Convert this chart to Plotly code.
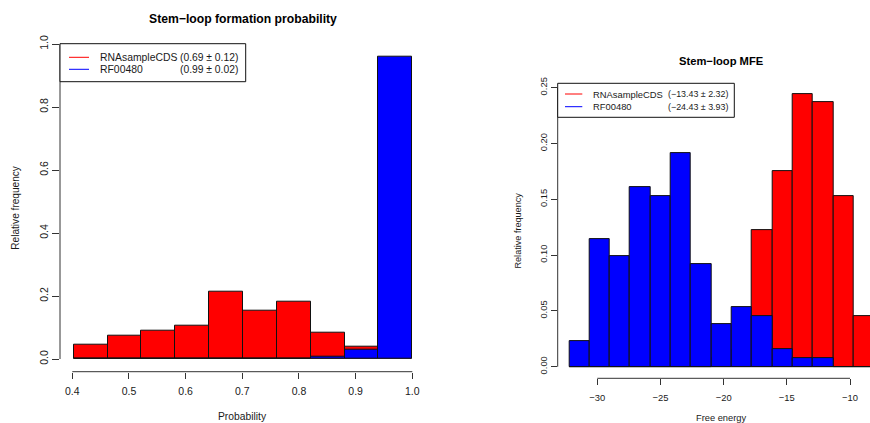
import plotly.graph_objects as go

# ---------------- data ----------------
prob_edges = [0.4025, 0.4623, 0.5220, 0.5818, 0.6415, 0.7013, 0.7610, 0.8208, 0.8805, 0.9403, 1.0]
prob_rnasample = [0.044, 0.075, 0.090, 0.107, 0.213, 0.152, 0.182, 0.083, 0.039, 0.015]
prob_rf00480 = [0.0, 0.0, 0.0, 0.0, 0.0, 0.0, 0.0, 0.008, 0.031, 0.960]

mfe_edges = [-32.22, -30.61, -29.00, -27.40, -25.79, -24.18, -22.57, -20.97,
             -19.36, -17.75, -16.14, -14.54, -12.93, -11.32, -9.72, -8.11]
mfe_rnasample = [0.0, 0.0, 0.0, 0.0, 0.0, 0.0, 0.0, 0.0076, 0.015, 0.122,
                 0.1756, 0.2443, 0.237, 0.153, 0.0457]
mfe_rf00480 = [0.023, 0.114, 0.099, 0.161, 0.153, 0.191, 0.092, 0.038, 0.0535,
               0.0457, 0.0156, 0.0075, 0.0075, 0.0, 0.0]

prob_xticks = [0.4, 0.5, 0.6, 0.7, 0.8, 0.9, 1.0]
prob_xlabels = ["0.4", "0.5", "0.6", "0.7", "0.8", "0.9", "1.0"]
prob_yticks = [0.0, 0.2, 0.4, 0.6, 0.8, 1.0]
prob_ylabels = ["0.0", "0.2", "0.4", "0.6", "0.8", "1.0"]
mfe_xticks = [-30, -25, -20, -15, -10]
mfe_yticks = [0.00, 0.05, 0.10, 0.15, 0.20, 0.25]
mfe_ylabels = ["0.00", "0.05", "0.10", "0.15", "0.20", "0.25"]

left_title = "Stem−loop formation probability"
right_title = "Stem−loop MFE"
left_legend = [("RNAsampleCDS", "(0.69 ± 0.12)"), ("RF00480", "(0.99 ± 0.02)")]
right_legend = [("RNAsampleCDS", "(−13.43 ± 2.32)"), ("RF00480", "(−24.43 ± 3.93)")]

RED = "#ff0000"
BLUE = "#0000ff"
FONT = "Liberation Sans, Arial, Helvetica, sans-serif"
TXT = "#1a1a1a"
W, H = 870, 423


def centers(edges):
    return [(a + b) / 2 for a, b in zip(edges[:-1], edges[1:])]


def widths(edges):
    return [b - a for a, b in zip(edges[:-1], edges[1:])]


def px(x):
    return x / W


def py(y):
    return 1 - y / H


fig = go.Figure()
for vals, col, xa, ya, edges in [
    (prob_rnasample, RED, "x", "y", prob_edges),
    (prob_rf00480, BLUE, "x", "y", prob_edges),
    (mfe_rnasample, RED, "x2", "y2", mfe_edges),
    (mfe_rf00480, BLUE, "x2", "y2", mfe_edges),
]:
    fig.add_trace(go.Bar(
        x=centers(edges), y=vals, width=widths(edges), base=0,
        marker=dict(color=col, line=dict(color="#111111", width=1)),
        xaxis=xa, yaxis=ya, showlegend=False, hoverinfo="skip",
    ))

axis_common = dict(showgrid=False, zeroline=False, showline=False, ticks="outside",
                   tickcolor="#333333", tickwidth=1, color=TXT, automargin=False)

fig.update_layout(
    width=W, height=H, margin=dict(l=0, r=0, t=0, b=0, pad=0, autoexpand=False),
    paper_bgcolor="white", plot_bgcolor="white", barmode="overlay", bargap=0,
    font=dict(family=FONT, color=TXT),
    xaxis=dict(domain=[px(60), px(425.8)], range=[0.37829, 1.02382],
               tickvals=prob_xticks, ticktext=prob_xlabels,
               ticklen=6, tickfont=dict(size=10.5), ticklabelstandoff=4, anchor="y", **axis_common),
    yaxis=dict(domain=[py(371.7), py(43.7)], range=[-0.0403, 1.001],
               tickvals=prob_yticks, ticktext=prob_ylabels,
               ticklen=7, tickangle=-90, tickfont=dict(size=10.5), anchor="x", **axis_common),
    xaxis2=dict(domain=[px(557.7), 1.0], range=[-33.134, -8.417],
                tickvals=mfe_xticks, ticklen=6, tickfont=dict(size=9.4),
                ticklabelstandoff=4, anchor="y2", **axis_common),
    yaxis2=dict(domain=[py(378.3), py(83.1)], range=[-0.0104, 0.2541],
                tickvals=mfe_yticks, ticktext=mfe_ylabels,
                ticklen=6, tickangle=-90, tickfont=dict(size=9.4), anchor="x2", **axis_common),
)

shapes = []
line = dict(color="#333333", width=1)
# axis lines spanning only the tick range (R style)
shapes.append(dict(type="line", xref="x", yref="y domain", x0=prob_xticks[0], x1=prob_xticks[-1], y0=0, y1=0, line=line))
shapes.append(dict(type="line", xref="x domain", yref="y", x0=0, x1=0, y0=prob_yticks[0], y1=prob_yticks[-1], line=line))
shapes.append(dict(type="line", xref="x2", yref="y2 domain", x0=mfe_xticks[0], x1=mfe_xticks[-1], y0=0, y1=0, line=line))
shapes.append(dict(type="line", xref="x2 domain", yref="y2", x0=0, x1=0, y0=mfe_yticks[0], y1=mfe_yticks[-1], line=line))

annotations = []


def text(x, y, s, size, anchor="center", bold=False, angle=0):
    annotations.append(dict(
        x=px(x), y=py(y), xref="paper", yref="paper", text=("<b>%s</b>" % s) if bold else s,
        showarrow=False, xanchor=anchor, yanchor="middle", textangle=angle,
        font=dict(size=size, family=FONT, color="#000000" if bold else TXT),
    ))


def legend(box, line_ys, lx0, lx1, tx, tr, entries, size, stat_size):
    x0, y0, x1, y1 = box
    shapes.append(dict(type="rect", xref="paper", yref="paper", x0=px(x0), x1=px(x1),
                       y0=py(y1), y1=py(y0), line=dict(color="#111111", width=1),
                       fillcolor="white", layer="above"))
    for (name, stat), ly, col in zip(entries, line_ys, [RED, BLUE]):
        shapes.append(dict(type="line", xref="paper", yref="paper", x0=px(lx0), x1=px(lx1),
                           y0=py(ly), y1=py(ly), line=dict(color=col, width=1)))
        text(tx, ly, name, size, anchor="left")
        text(tr, ly, stat, stat_size, anchor="right")


legend((60, 43.7, 245.7, 81.7), [57.3, 69.3], 69, 89, 97.7, 240.3, left_legend, 10.4, 10.3)
legend((557.7, 83.3, 734.3, 117.3), [94, 106.7], 565, 582.3, 590.7, 730.3, right_legend, 9.4, 8.9)

text(242.5, 19, left_title, 12.2, bold=True)
text(721.3, 60.7, right_title, 11.2, bold=True)
text(242.5, 416.5, "Probability", 10.3)
text(721.3, 418, "Free energy", 9.3)
text(16, 207.7, "Relative frequency", 10.1, angle=-90)
text(518, 230.5, "Relative frequency", 9.1, angle=-90)

fig.update_layout(shapes=shapes, annotations=annotations)
fig.write_html("out.html")
